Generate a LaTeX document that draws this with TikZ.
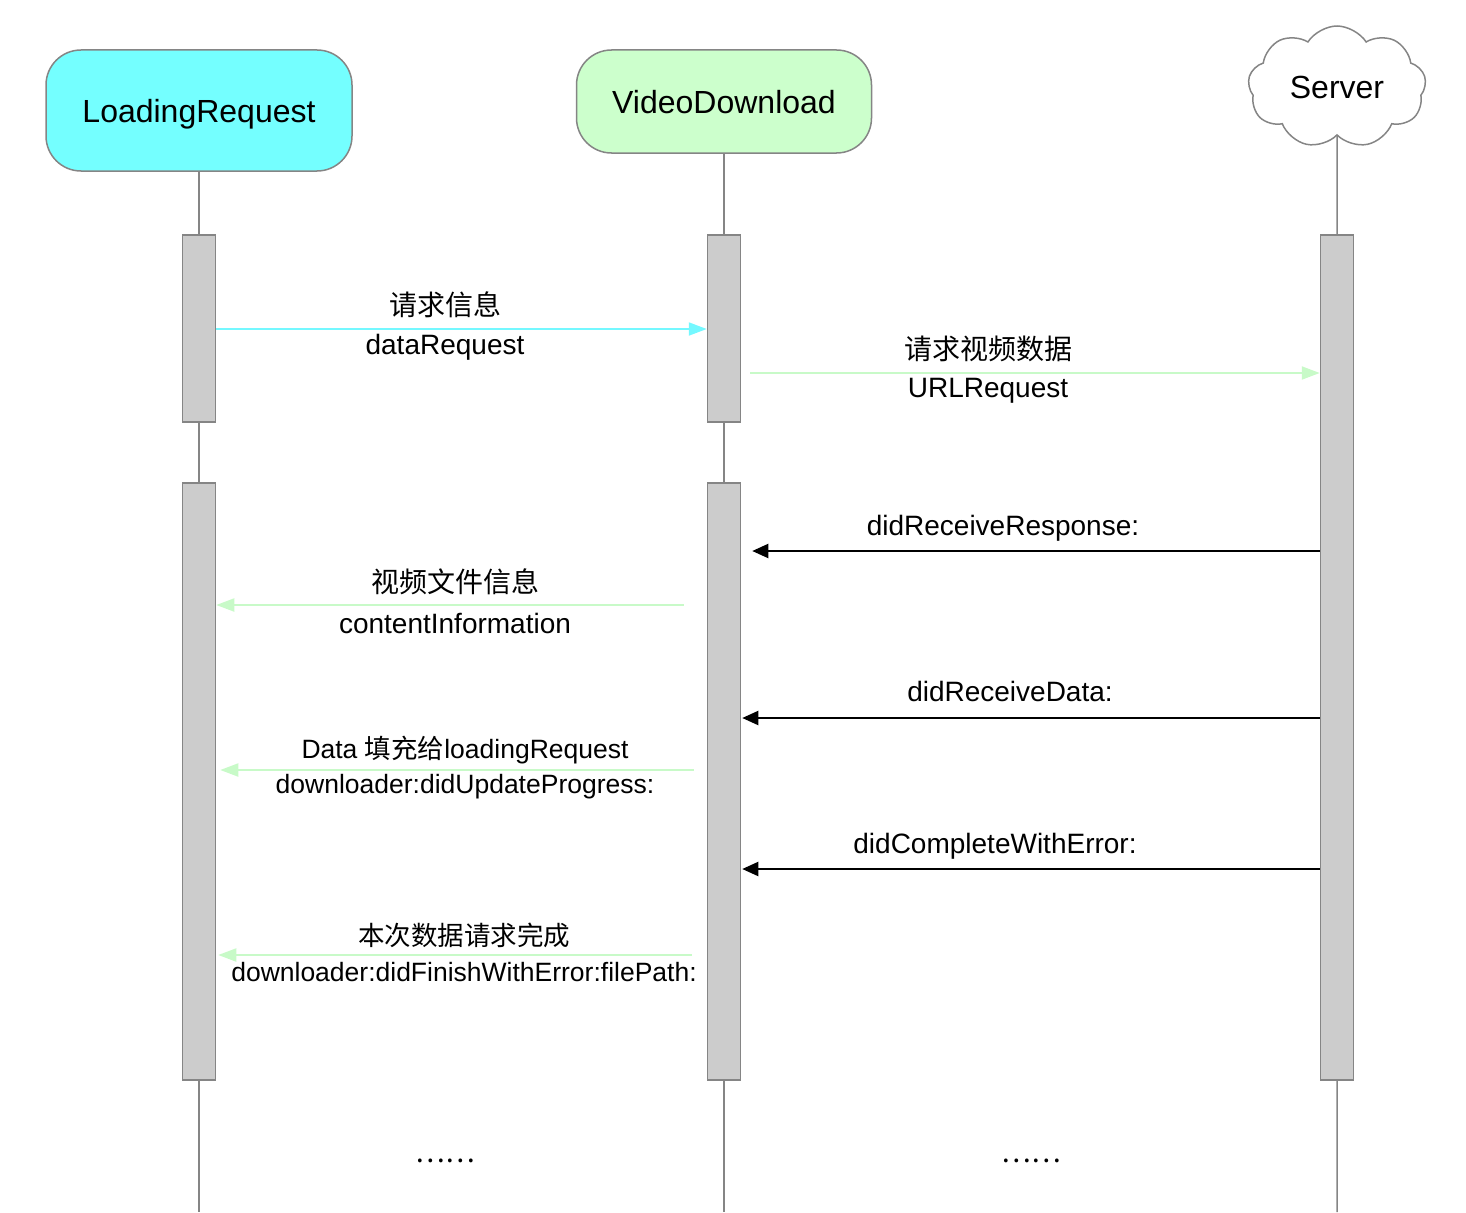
\documentclass[tikz,border=0pt]{standalone}
\usepackage{fontspec}
\setmainfont{Liberation Sans}
\newfontfamily\cjk{Noto Sans CJK SC}
\usepackage{tikz}
\usetikzlibrary{shapes.symbols,arrows.meta,calc}
\definecolor{headcyan}{HTML}{74FFFF}
\definecolor{headgreen}{HTML}{CCFFCC}
\definecolor{arrcyan}{HTML}{74F8FF}
\definecolor{arrgreen}{HTML}{C8FAC8}
\definecolor{bargray}{HTML}{CCCCCC}
\definecolor{linegray}{HTML}{858585}

\begin{document}
\begin{tikzpicture}[x=1pt,y=-1pt,
  headbox/.style={draw=linegray,line width=1.5pt,rounded corners=35pt,text depth=0pt,font=\fontsize{32}{38}\selectfont},
  actbar/.style={draw=linegray,line width=1.5pt,fill=bargray,minimum width=33pt,inner sep=0pt},
  life/.style={linegray,line width=1.5pt},
  lbl/.style={font=\fontsize{28}{32}\selectfont,inner sep=0pt},
  lblsmall/.style={font=\fontsize{26.5}{30}\selectfont,inner sep=0pt},
  callcyan/.style={arrcyan,line width=2pt,-{Triangle[length=18pt,width=13pt]}},
  callgreen/.style={arrgreen,line width=2pt,-{Triangle[length=18pt,width=13pt]}},
  callblack/.style={black,line width=2pt,-{Triangle[length=16pt,width=14pt]}}]
\useasboundingbox (0,0) rectangle (1466,1212);

% heads
\node[headbox,fill=headcyan,minimum width=306pt,minimum height=121pt] (lr) at (199,110.5) {LoadingRequest};
\node[headbox,fill=headgreen,minimum width=295pt,minimum height=103pt] (vd) at (724,101.5) {VideoDownload};
\node[cloud,cloud puffs=9,cloud puff arc=115,aspect=1.45,draw=linegray,line width=1.5pt,
  minimum width=178pt,minimum height=122pt,inner sep=0pt,
  font=\fontsize{32}{38}\selectfont] (sv) at (1337,87) {Server};

% lifelines
\coordinate (lrEnd) at (199,1212);
\coordinate (vdEnd) at (724,1212);
\coordinate (svEnd) at (1337,1212);
\draw[life] (lr.south) -- (lrEnd);
\draw[life] (vd.south) -- (vdEnd);
\draw[life] (sv.south) -- (svEnd);

% activations
\node[actbar,minimum height=187pt] (lr1) at (199,328.5) {};
\node[actbar,minimum height=597pt] (lr2) at (199,781.5) {};
\node[actbar,minimum height=187pt] (vd1) at (724,328.5) {};
\node[actbar,minimum height=597pt] (vd2) at (724,781.5) {};
\node[actbar,minimum height=845pt] (sv1) at (1337,657.5) {};

% messages
\draw[callcyan] (lr1.east |- 0,329) -- (vd1.west |- 0,329);
\node[lbl] (m1a) at (445,305) {\cjk 请求信息};
\node[lbl] (m1b) at (445,347) {dataRequest};

\draw[callgreen] ($(vd1.east |- 0,373)+(9,0)$) -- (sv1.west |- 0,373);
\node[lbl] (m2a) at (988,349) {\cjk 请求视频数据};
\node[lbl] (m2b) at (988,391) {URLRequest};

\draw[callblack] (sv1.west |- 0,551) -- ($(vd2.east |- 0,551)+(11,0)$);
\node[lbl] (m3) at (1003,528) {didReceiveResponse:};

\draw[callgreen] ($(vd2.west |- 0,605)+(-23,0)$) -- (lr2.east |- 0,605);
\node[lbl] (m4a) at (455,582) {\cjk 视频文件信息};
\node[lbl] (m4b) at (455,623) {contentInformation};

\draw[callblack] (sv1.west |- 0,718) -- ($(vd2.east |- 0,718)+(1,0)$);
\node[lbl] (m5) at (1010,691) {didReceiveData:};

\draw[callgreen] ($(vd2.west |- 0,770)+(-13,0)$) -- ($(lr2.east |- 0,770)+(4,0)$);
\node[lblsmall] (m6a) at (465,750) {Data {\cjk 填充给}loadingRequest};
\node[lblsmall] (m6b) at (465,787) {downloader:didUpdateProgress:};

\draw[callblack] (sv1.west |- 0,869) -- ($(vd2.east |- 0,869)+(1,0)$);
\node[lbl] (m7) at (995,846) {didCompleteWithError:};

\draw[callgreen] ($(vd2.west |- 0,955)+(-15,0)$) -- ($(lr2.east |- 0,955)+(2,0)$);
\node[lblsmall] (m8a) at (464,935) {\cjk 本次数据请求完成};
\node[lblsmall] (m8b) at (464,972) {downloader:didFinishWithError:filePath:};

% more to come
\node[lbl] (dotsA) at (445,1161) {\cjk ……};
\node[lbl] (dotsB) at (1031,1161) {\cjk ……};
\end{tikzpicture}
\end{document}
